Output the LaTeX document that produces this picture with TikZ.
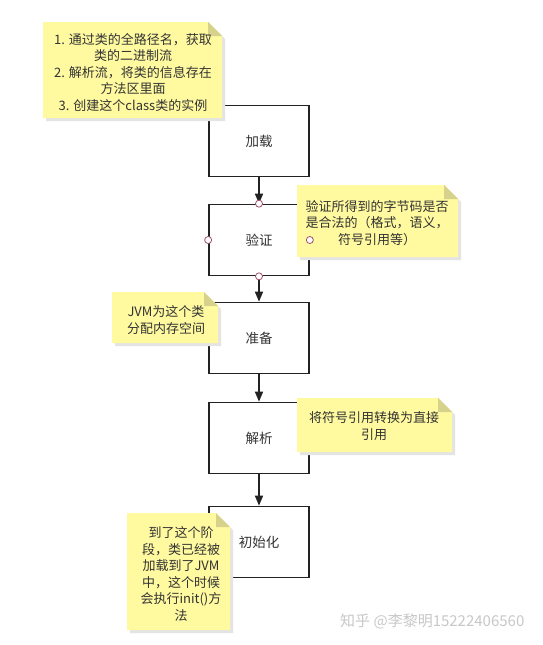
\documentclass[tikz,border=0pt]{standalone}
\usepackage{fontspec}
\setmainfont{Noto Sans CJK SC}
\usetikzlibrary{arrows.meta}
\definecolor{notefill}{RGB}{255,250,160}
\definecolor{notefold}{RGB}{214,210,140}
\definecolor{noteshadow}{RGB}{228,228,228}
\definecolor{lineclr}{RGB}{34,34,34}
\definecolor{portclr}{RGB}{160,80,110}
\definecolor{txt}{RGB}{51,51,51}
\definecolor{wm}{RGB}{200,200,200}
\newcommand{\stickynote}[8]{%
  \fill[noteshadow] (#2+3,#3+3) -- (#4-14+3,#3+3) -- (#4+3,#3+14+3) -- (#4+3,#5+3) -- (#2+3,#5+3) -- cycle;
  \fill[notefill] (#2,#3) -- (#4-14,#3) -- (#4,#3+14) -- (#4,#5) -- (#2,#5) -- cycle;
  \fill[notefold] (#4-14,#3) -- (#4,#3+14) -- (#4-14,#3+14) -- cycle;
  \node[notetext] (#1) at (#6,#7) {#8};
}
\begin{document}
\begin{tikzpicture}[x=1pt,y=-1pt,
  stagebox/.style={draw=lineclr, line width=1.7pt, fill=white, minimum width=100pt,
    minimum height=71pt, inner sep=0pt, font=\fontsize{13.5}{16}\selectfont, text=txt},
  flow/.style={draw=lineclr, line width=1.6pt, -{Triangle[length=10pt,width=8pt]}},
  notetext/.style={align=center, inner sep=0pt, text=txt, font=\fontsize{13}{16.5}\selectfont},
  port/.style={circle, draw=portclr, fill=white, inner sep=0pt, minimum size=7pt, line width=0.8pt}]
\useasboundingbox (0,0) rectangle (542,645);
\fill[white] (0,0) rectangle (542,645);

\node[stagebox] (load) at (259,141) {加载};
\node[stagebox] (verify) at (259,240) {验证};
\node[stagebox] (prep) at (259,338) {准备};
\node[stagebox] (resolve) at (259,438) {解析};
\node[stagebox] (init) at (259,542) {初始化};

\draw[flow] (load.south) -- (verify.north);
\draw[flow] (verify.south) -- (prep.north);
\draw[flow] (prep.south) -- (resolve.north);
\draw[flow] (resolve.south) -- (init.north);

\stickynote{n1}{43}{22}{222}{118}{133}{72}{1. 通过类的全路径名，获取\\类的二进制流\\2. 解析流，将类的信息存在\\方法区里面\\3. 创建这个class类的实例}
\stickynote{n2}{297}{185}{458}{257}{377}{223}{验证所得到的字节码是否\\是合法的（格式，语义，\\符号引用等）}
\stickynote{n3}{112}{292}{218}{343}{166}{320}{JVM为这个类\\分配内存空间}
\stickynote{n4}{297}{398}{452}{452}{374}{426}{将符号引用转换为直接\\引用}
\stickynote{n5}{127}{513}{230}{630}{181}{574}{到了这个阶\\段，类已经被\\加载到了JVM\\中，这个时候\\会执行init()方\\法}

\node[port] (pt) at (verify.north) {};
\node[port] (pb) at (verify.south) {};
\node[port] (pl) at (verify.west) {};
\node[port] (pr) at (verify.east) {};

\node[anchor=west, text=wm, inner sep=0pt, font=\fontsize{15}{17}\selectfont] (wmk) at (340,621) {知乎 @李黎明15222406560};
\end{tikzpicture}
\end{document}
